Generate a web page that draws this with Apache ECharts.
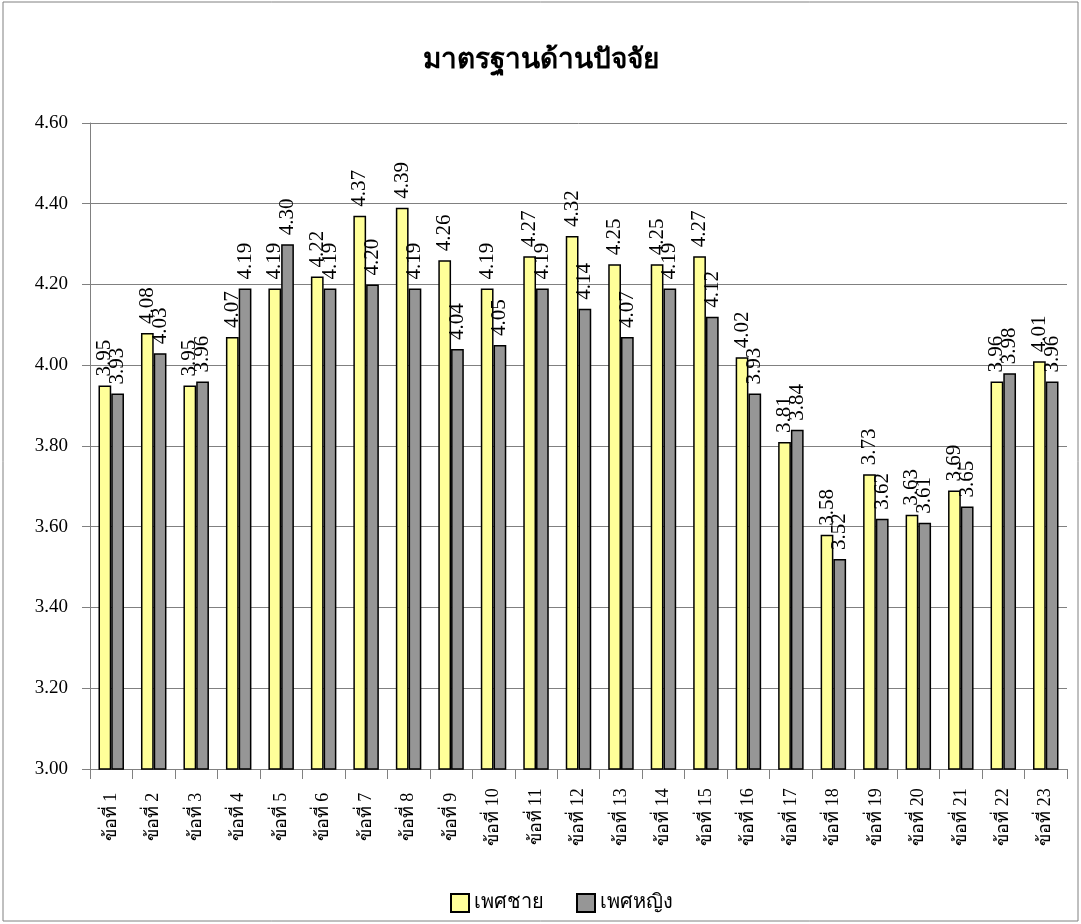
<!DOCTYPE html>
<html>
<head>
<meta charset="utf-8">
<script src="https://cdn.jsdelivr.net/npm/echarts@6/dist/echarts.min.js"></script>
<style>
html,body{margin:0;padding:0;background:#fff;}
#chart{width:1081px;height:924px;}
</style>
</head>
<body>
<div id="chart"></div>
<script>
const titleText = 'มาตรฐานด้านปัจจัย';
const categories = ['ข้อที่ 1','ข้อที่ 2','ข้อที่ 3','ข้อที่ 4','ข้อที่ 5','ข้อที่ 6','ข้อที่ 7','ข้อที่ 8','ข้อที่ 9','ข้อที่ 10','ข้อที่ 11','ข้อที่ 12','ข้อที่ 13','ข้อที่ 14','ข้อที่ 15','ข้อที่ 16','ข้อที่ 17','ข้อที่ 18','ข้อที่ 19','ข้อที่ 20','ข้อที่ 21','ข้อที่ 22','ข้อที่ 23'];
const seriesNames = ['เพศชาย','เพศหญิง'];
const male   = [3.95,4.08,3.95,4.07,4.19,4.22,4.37,4.39,4.26,4.19,4.27,4.32,4.25,4.25,4.27,4.02,3.81,3.58,3.73,3.63,3.69,3.96,4.01];
const female = [3.93,4.03,3.96,4.19,4.30,4.19,4.20,4.19,4.04,4.05,4.19,4.14,4.07,4.19,4.12,3.93,3.84,3.52,3.62,3.61,3.65,3.98,3.96];
const yMin = 3.0, yMax = 4.6, yStep = 0.2;

const serif = '"Liberation Serif", "Times New Roman", serif';
const chart = echarts.init(document.getElementById('chart'), null, {renderer:'canvas'});
const labelCfg = {
  show: true, position: 'top', rotate: 90, align: 'left', verticalAlign: 'middle',
  distance: 9, fontFamily: serif, fontSize: 21, color: '#000',
  formatter: p => p.value.toFixed(2)
};
chart.setOption({
  animation: false,
  backgroundColor: '#fff',
  graphic: [{type:'rect', shape:{x:3,y:2,width:1075,height:919}, style:{fill:'none', stroke:'#808080', lineWidth:1}, silent:true}],
  title: {text: titleText, left: 'center', top: 42, textStyle:{fontFamily: serif, fontSize: 28, fontWeight:'bold', color:'#000'}},
  legend: {top: 888, left: 445, itemWidth: 18, itemHeight: 18, itemGap: 32, icon: 'rect',
    textStyle:{fontFamily: serif, fontSize: 20, color:'#000'},
    data: seriesNames},
  grid: {left: 90, right: 14, top: 123, bottom: 155, containLabel: false},
  xAxis: {type:'category', data: categories,
    axisLine:{lineStyle:{color:'#808080'}},
    axisTick:{show:true, length:10, lineStyle:{color:'#808080'}},
    axisLabel:{rotate:90, align:'center', margin:48, fontFamily: serif, fontSize: 18, color:'#000', interval:0}},
  yAxis: {type:'value', min: yMin, max: yMax, interval: yStep,
    axisLine:{show:true, lineStyle:{color:'#808080'}},
    axisTick:{show:true, length:8, lineStyle:{color:'#808080'}},
    splitLine:{lineStyle:{color:'#808080'}},
    axisLabel:{fontFamily: serif, fontSize: 19, color:'#000', margin: 22, formatter: v => v.toFixed(2)}},
  series: [
    {name: seriesNames[0], type:'bar', data: male, barGap: '0%', barCategoryGap: '40%',
     itemStyle:{color:'#FFFF99', borderColor:'#000', borderWidth:1.5}, label: labelCfg},
    {name: seriesNames[1], type:'bar', data: female,
     itemStyle:{color:'#969696', borderColor:'#000', borderWidth:1.5}, label: labelCfg}
  ]
});
</script>
</body>
</html>
